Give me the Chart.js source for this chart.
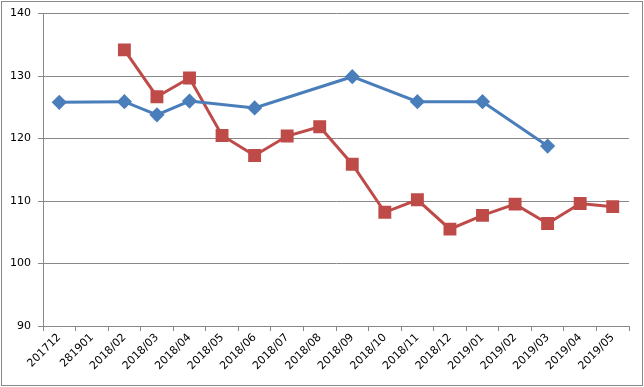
<!DOCTYPE html>
<html>
<head>
<meta charset="utf-8">
<script src="https://cdn.jsdelivr.net/npm/chart.js@4/dist/chart.umd.min.js"></script>
<style>
html,body{margin:0;padding:0;background:#fff;}
#wrap{position:relative;width:644px;height:387px;}
#frame{position:absolute;left:1px;top:1px;width:640px;height:383px;border:1px solid #888;}
canvas{position:absolute;left:0;top:0;}
</style>
</head>
<body>
<div id="wrap"><div id="frame"></div><canvas id="c" width="644" height="387"></canvas></div>
<script>
const categories = ['201712','281901','2018/02','2018/03','2018/04','2018/05','2018/06','2018/07','2018/08','2018/09','2018/10','2018/11','2018/12','2019/01','2019/02','2019/03','2019/04','2019/05'];
const blueValues = [125.8, null, 125.9, 123.8, 126.0, null, 124.9, null, null, 129.9, null, 125.9, null, 125.9, null, 118.8, null, null];
const redValues = [null, null, 134.2, 126.7, 129.7, 120.5, 117.3, 120.4, 121.9, 115.9, 108.2, 110.2, 105.5, 107.7, 109.5, 106.4, 109.6, 109.1];
const yTicks = [90, 100, 110, 120, 130, 140];

const font = {family: 'DejaVu Sans', size: 11};
new Chart(document.getElementById('c'), {
  type: 'line',
  data: {
    labels: categories,
    datasets: [
      {data: blueValues, borderColor: '#4A7EBB', backgroundColor: '#4A7EBB', borderWidth: 3,
       pointStyle: 'rectRot', pointRadius: 5.5, pointHoverRadius: 5.5, spanGaps: true, tension: 0},
      {data: redValues, borderColor: '#BE4B48', backgroundColor: '#BE4B48', borderWidth: 3,
       pointStyle: 'rect', pointRadius: 7, pointHoverRadius: 7, spanGaps: true, tension: 0}
    ]
  },
  options: {
    responsive: false,
    animation: false,
    events: [],
    layout: {padding: {left: 4, right: 15, top: 13, bottom: 10}},
    plugins: {legend: {display: false}, tooltip: {enabled: false}},
    scales: {
      x: {
        offset: true,
        grid: {display: true, drawOnChartArea: false, drawTicks: true, tickLength: 5, offset: true, color: '#888'},
        border: {display: true, color: '#888'},
        ticks: {font: font, color: '#000', maxRotation: 45, minRotation: 45, autoSkip: false, padding: 0},
        afterFit: s => { s.height = 51; }
      },
      y: {
        min: 90, max: 140,
        afterBuildTicks: s => { s.ticks = yTicks.map(v => ({value: v})); },
        grid: {color: '#888', tickLength: 5, drawTicks: true},
        border: {display: true, color: '#888'},
        ticks: {font: font, color: '#000', padding: 7},
        afterFit: s => { s.width = 39; }
      }
    }
  }
});
</script>
</body>
</html>
